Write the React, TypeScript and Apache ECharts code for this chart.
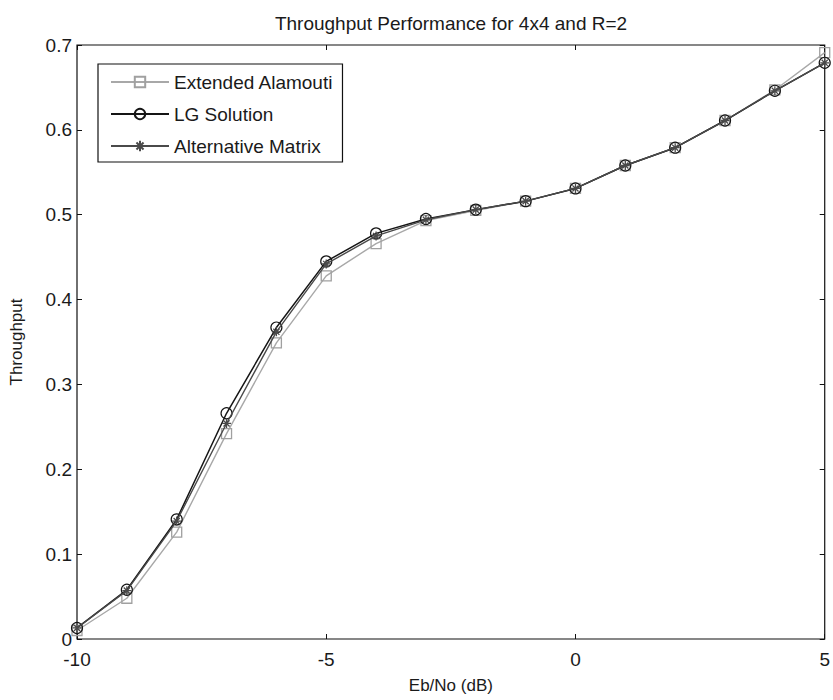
import React, { useEffect, useRef } from "react";
import * as echarts from "echarts";

const ebNo = [-10, -9, -8, -7, -6, -5, -4, -3, -2, -1, 0, 1, 2, 3, 4, 5];
const extendedAlamouti = [0.010, 0.048, 0.126, 0.242, 0.349, 0.428, 0.466, 0.493, 0.505, 0.516, 0.531, 0.558, 0.579, 0.611, 0.647, 0.691];
const lgSolution = [0.013, 0.058, 0.141, 0.266, 0.367, 0.445, 0.478, 0.495, 0.506, 0.516, 0.531, 0.558, 0.579, 0.611, 0.646, 0.679];
const alternativeMatrix = [0.013, 0.057, 0.139, 0.254, 0.362, 0.442, 0.475, 0.494, 0.506, 0.516, 0.531, 0.558, 0.579, 0.611, 0.646, 0.679];
const seriesNames = ["Extended Alamouti", "LG Solution", "Alternative Matrix"];
const titleText = "Throughput Performance for 4x4 and R=2";
const xTitle = "Eb/No (dB)";
const yTitle = "Throughput";

const FONT = "'Liberation Sans', Arial, Helvetica, sans-serif";
const ASTERISK = "path://M5,0L5,10M0,5L10,5M1.6,1.6L8.4,8.4M1.6,8.4L8.4,1.6";

const pairs = (ys: number[]) => ebNo.map((x, i) => [x, ys[i]]);

export default function App() {
  const ref = useRef<HTMLDivElement>(null);
  useEffect(() => {
    if (!ref.current) return;
    const chart = echarts.init(ref.current, null, { renderer: "svg" });
    const tick = { show: true, inside: true, length: 5, lineStyle: { color: "#111", width: 1 } };
    const hiddenLine = { show: false, onZero: false };
    chart.setOption({
      animation: false,
      backgroundColor: "#fff",
      graphic: [
        {
          type: "text",
          x: 451,
          y: 23,
          style: {
            text: titleText,
            x: 0,
            y: 0,
            align: "center",
            verticalAlign: "middle",
            font: `19px ${FONT}`,
            fill: "#1a1a1a",
          },
        },
      ],
      grid: {
        left: 77,
        right: 6,
        top: 45,
        bottom: 61,
        show: true,
        borderColor: "#111",
        borderWidth: 1.2,
        backgroundColor: "#fff",
      },
      legend: {
        orient: "vertical",
        left: 98,
        top: 64,
        data: seriesNames,
        backgroundColor: "#fff",
        borderColor: "#111",
        borderWidth: 1.2,
        borderRadius: 0,
        padding: [8, 9, 6, 12],
        itemGap: 12,
        itemWidth: 58,
        itemHeight: 13,
        textStyle: { fontFamily: FONT, fontSize: 19, color: "#1a1a1a", lineHeight: 20 },
      },
      xAxis: [
        {
          type: "value",
          min: -10,
          max: 5,
          interval: 5,
          name: xTitle,
          nameLocation: "middle",
          nameGap: 38,
          nameTextStyle: { fontFamily: FONT, fontSize: 17, color: "#1a1a1a" },
          axisLine: hiddenLine,
          axisTick: tick,
          splitLine: { show: false },
          axisLabel: { fontFamily: FONT, fontSize: 19, color: "#1a1a1a", margin: 11 },
        },
        {
          type: "value",
          position: "top",
          min: -10,
          max: 5,
          interval: 5,
          axisLine: hiddenLine,
          axisTick: tick,
          splitLine: { show: false },
          axisLabel: { show: false },
        },
      ],
      yAxis: [
        {
          type: "value",
          position: "left",
          min: 0,
          max: 0.7,
          interval: 0.1,
          name: yTitle,
          nameLocation: "middle",
          nameGap: 52,
          nameTextStyle: { fontFamily: FONT, fontSize: 17, color: "#1a1a1a" },
          axisLine: hiddenLine,
          axisTick: tick,
          splitLine: { show: false },
          axisLabel: {
            fontFamily: FONT,
            fontSize: 19,
            color: "#1a1a1a",
            margin: 5,
            formatter: (v: number) => String(parseFloat(v.toFixed(1))),
          },
        },
        {
          type: "value",
          position: "right",
          min: 0,
          max: 0.7,
          interval: 0.1,
          axisLine: hiddenLine,
          axisTick: tick,
          splitLine: { show: false },
          axisLabel: { show: false },
        },
      ],
      series: [
        {
          name: seriesNames[0],
          type: "line",
          data: pairs(extendedAlamouti),
          symbol: "rect",
          symbolSize: 10,
          lineStyle: { color: "#a8a8a8", width: 1.4 },
          itemStyle: { color: "rgba(255,255,255,0)", borderColor: "#a0a0a0", borderWidth: 1.3 },
          z: 2,
        },
        {
          name: seriesNames[1],
          type: "line",
          data: pairs(lgSolution),
          symbol: "circle",
          symbolSize: 11,
          lineStyle: { color: "#151515", width: 1.5 },
          itemStyle: { color: "rgba(255,255,255,0)", borderColor: "#151515", borderWidth: 1.2 },
          z: 3,
        },
        {
          name: seriesNames[2],
          type: "line",
          data: pairs(alternativeMatrix),
          symbol: ASTERISK,
          symbolSize: 9,
          lineStyle: { color: "#4a4a4a", width: 1.4 },
          itemStyle: { color: "#4a4a4a", borderColor: "#4a4a4a", borderWidth: 1.3 },
          z: 4,
        },
      ],
    });
    return () => chart.dispose();
  }, []);
  return (
    <div
      ref={ref}
      style={{ position: "fixed", left: 0, top: 0, width: 833, height: 700, background: "#fff" }}
    />
  );
}
